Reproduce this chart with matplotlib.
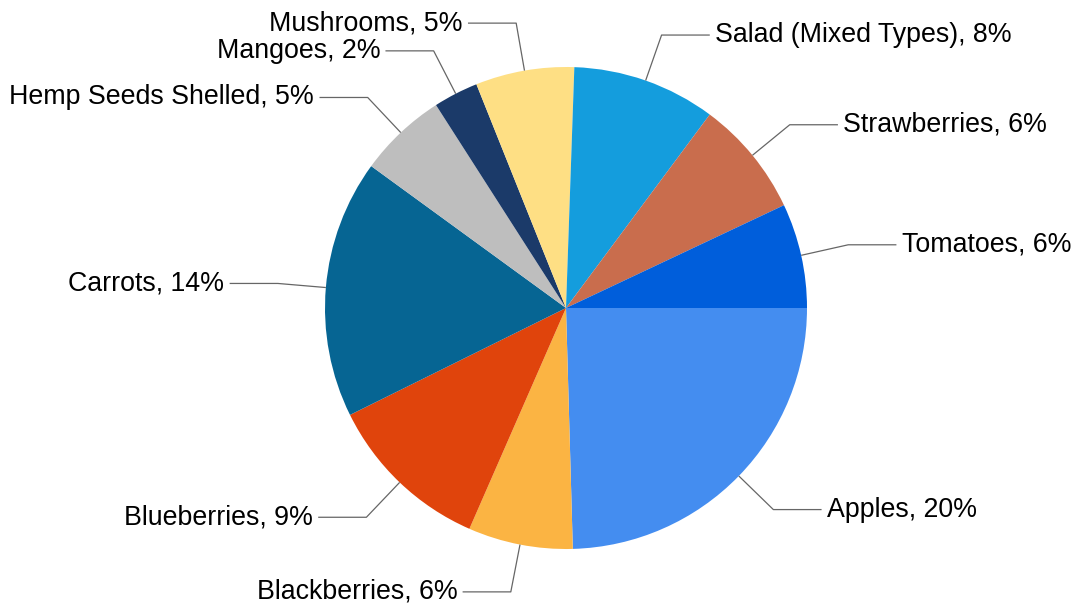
import numpy as np
import matplotlib
matplotlib.use("Agg")
import matplotlib.pyplot as plt

categories = ["Apples", "Blackberries", "Blueberries", "Carrots", "Hemp Seeds Shelled",
              "Mangoes", "Mushrooms", "Salad (Mixed Types)", "Strawberries", "Tomatoes"]
# slice shares
values = [24.5, 7.0, 11.1, 17.3, 5.9, 3.0, 6.6, 9.6, 7.8, 7.0]
# percentages as printed on the labels
pct_labels = ["20%", "6%", "9%", "14%", "5%", "2%", "5%", "8%", "6%", "6%"]
colors = ["#448DF0", "#FBB443", "#E0440C", "#066593", "#BEBEBE",
          "#1B3A69", "#FEDF84", "#149DDD", "#C96D4D", "#005EDB"]

W, H = 1080, 605
cx, cy, R = 566, 308, 241

fig = plt.figure(figsize=(W / 100, H / 100), dpi=100)
ax = fig.add_axes([0, 0, 1, 1])
wedges, _ = ax.pie(values, colors=colors, startangle=0, counterclock=False,
                   radius=1.0, wedgeprops=dict(linewidth=0))
ax.set_aspect("auto")
ax.set_xlim(-cx / R, (W - cx) / R)
ax.set_ylim((cy - H) / R, cy / R)
ax.axis("off")

for w, cat, pl in zip(wedges, categories, pct_labels):
    mid = np.deg2rad((w.theta1 + w.theta2) / 2)
    c, s = np.cos(mid), np.sin(mid)
    ex, ey = 1.2 * c, 1.2 * s
    side = 1 if c >= 0 else -1
    hx = ex + side * 0.2
    ax.plot([c, ex, hx], [s, ey, ey], color="#666666", lw=0.9, solid_capstyle="butt")
    ax.text(hx + side * 0.022, ey, f"{cat}, {pl}", ha="left" if side > 0 else "right",
            va="center", fontsize=19.3, family="Liberation Sans", color="#000000")

fig.savefig("out.png", dpi=100)
